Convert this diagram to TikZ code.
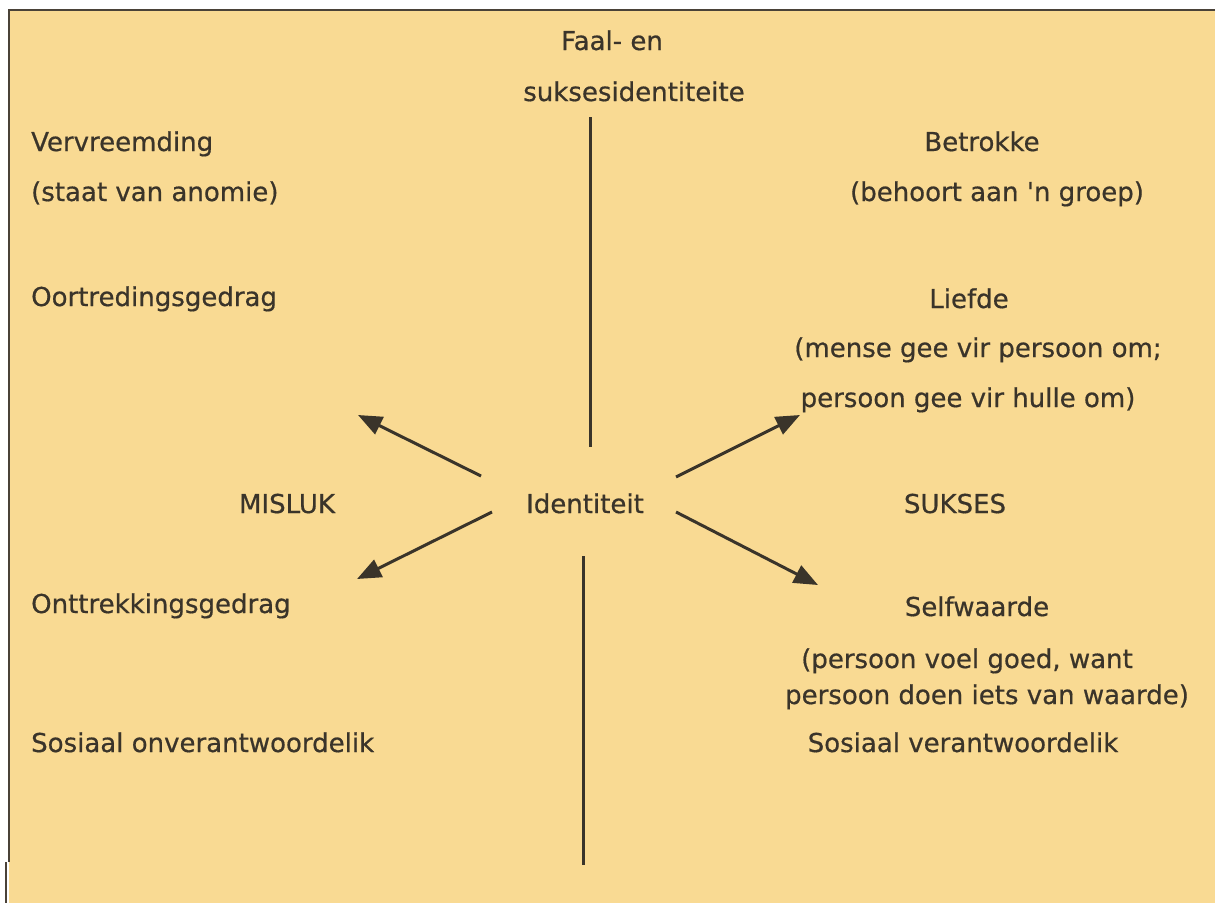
\documentclass[tikz,border=0pt]{standalone}
\usepackage{fontspec}
\setmainfont[FakeBold=0.6]{DejaVu Sans}
\usetikzlibrary{arrows.meta}
\definecolor{bg}{HTML}{F9DA93}
\definecolor{ink}{HTML}{3A342A}
\definecolor{frame}{HTML}{4A4238}
\begin{document}
\begin{tikzpicture}[x=1pt,y=-1pt,
  lbl/.style={inner sep=0pt,text=ink,font=\fontsize{26}{30}\selectfont},
  lleft/.style={lbl,anchor=base west},
  lmid/.style={lbl,anchor=base},
  rule/.style={draw=ink,line width=3pt},
  arr/.style={draw=ink,line width=3pt,-{Triangle[length=24pt,width=19pt]}}]
\useasboundingbox (0,0) rectangle (1215,903);
\fill[white] (0,0) rectangle (1215,903);
\fill[bg] (9,10) rectangle (1215,903);
\draw[frame,line width=2.2pt] (9,862) -- (9,10) -- (1215,10);
\draw[frame,line width=2.2pt] (6,862) -- (6,903);
% top labels
\node[lmid] (faal) at (612,50) {Faal- en};
\node[lmid] (sukid) at (634,101) {suksesidentiteite};
% left column
\node[lleft] (verv) at (31,151) {Vervreemding};
\node[lleft] (anom) at (31,201) {(staat van anomie)};
\node[lleft] (oort) at (31,306) {Oortredingsgedrag};
\node[lmid] (misluk) at (287,513) {MISLUK};
\node[lleft] (ontt) at (31,613) {Onttrekkingsgedrag};
\node[lleft] (sonv) at (31,752) {Sosiaal onverantwoordelik};
% centre
\node[lmid] (ident) at (585,513) {Identiteit};
% right column
\node[lmid] (betr) at (982,151) {Betrokke};
\node[lmid] (groep) at (997,201) {(behoort aan \textquotesingle n groep)};
\node[lmid] (lief) at (969,308) {Liefde};
\node[lmid] (mense) at (978,357) {(mense gee vir persoon om;};
\node[lmid] (hulle) at (968,407) {persoon gee vir hulle om)};
\node[lmid] (sukses) at (955,513) {SUKSES};
\node[lmid] (self) at (977,616) {Selfwaarde};
\node[lmid] (voel) at (967,668) {(persoon voel goed, want};
\node[lmid] (doen) at (987,704) {persoon doen iets van waarde)};
\node[lmid] (sver) at (963,752) {Sosiaal verantwoordelik};
% connector end points
\coordinate (vtA) at (590,117);
\coordinate (vtB) at (590,447);
\coordinate (vbA) at (583,556);
\coordinate (vbB) at (583,865);
\coordinate (ulT) at (481,476);
\coordinate (ulH) at (358,415);
\coordinate (llT) at (492,512);
\coordinate (llH) at (357,579);
\coordinate (urT) at (676,477);
\coordinate (urH) at (800,415);
\coordinate (lrT) at (676,512);
\coordinate (lrH) at (818,585);
\draw[rule] (vtA) -- (vtB);
\draw[rule] (vbA) -- (vbB);
\draw[arr] (ulT) -- (ulH);
\draw[arr] (llT) -- (llH);
\draw[arr] (urT) -- (urH);
\draw[arr] (lrT) -- (lrH);
\end{tikzpicture}
\end{document}
